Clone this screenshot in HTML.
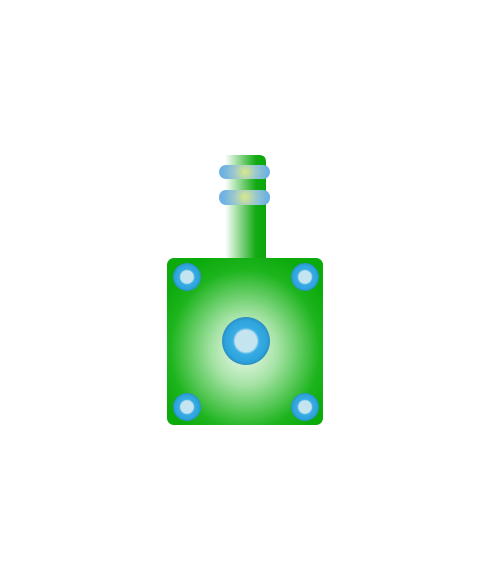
<!DOCTYPE html>
<html><head><meta charset="utf-8"><style>html,body{margin:0;padding:0;background:#fff;width:490px;height:580px;overflow:hidden}</style></head>
<body>
<svg width="490" height="580" viewBox="0 0 490 580">
<defs>
<linearGradient id="shaft" x1="0" x2="1" y1="0" y2="0">
<stop offset="0" stop-color="#ffffff"/><stop offset="0.75" stop-color="#13ab13"/><stop offset="1" stop-color="#0aa70a"/>
</linearGradient>
<radialGradient id="box" cx="0.5" cy="0.55" r="0.6">
<stop offset="0" stop-color="#f2fbf2"/><stop offset="0.35" stop-color="#a6e3a6"/><stop offset="0.8" stop-color="#1db41d"/><stop offset="1" stop-color="#0cab0c"/>
</radialGradient>
<radialGradient id="band1" gradientUnits="userSpaceOnUse" cx="245" cy="172" r="22">
<stop offset="0" stop-color="#d8e88a"/><stop offset="0.5" stop-color="#9cc8cc"/><stop offset="1" stop-color="#6fb2e2"/>
</radialGradient>
<radialGradient id="band2" gradientUnits="userSpaceOnUse" cx="245" cy="197" r="22">
<stop offset="0" stop-color="#d8e88a"/><stop offset="0.5" stop-color="#9cc8cc"/><stop offset="1" stop-color="#6fb2e2"/>
</radialGradient>
<radialGradient id="hole" cx="0.5" cy="0.5" r="0.5">
<stop offset="0.45" stop-color="#c4e4f0"/><stop offset="0.55" stop-color="#38ace4"/><stop offset="0.85" stop-color="#2ea4dc"/><stop offset="1" stop-color="#2a8ec4"/>
</radialGradient>
</defs>
<path d="M225 258 V155 H259 Q266 155 266 162 V258 Z" fill="url(#shaft)"/>
<rect x="219" y="165" width="51" height="14" rx="7" fill="url(#band1)"/>
<rect x="219" y="190" width="51" height="15" rx="7" fill="url(#band2)"/>
<rect x="167" y="258" width="156" height="167" rx="7" fill="url(#box)"/>
<circle cx="187" cy="277" r="14" fill="url(#hole)"/>
<circle cx="305" cy="277" r="14" fill="url(#hole)"/>
<circle cx="187" cy="407" r="14" fill="url(#hole)"/>
<circle cx="305" cy="407" r="14" fill="url(#hole)"/>
<circle cx="246" cy="341" r="24" fill="url(#hole)"/>
</svg>
</body></html>
